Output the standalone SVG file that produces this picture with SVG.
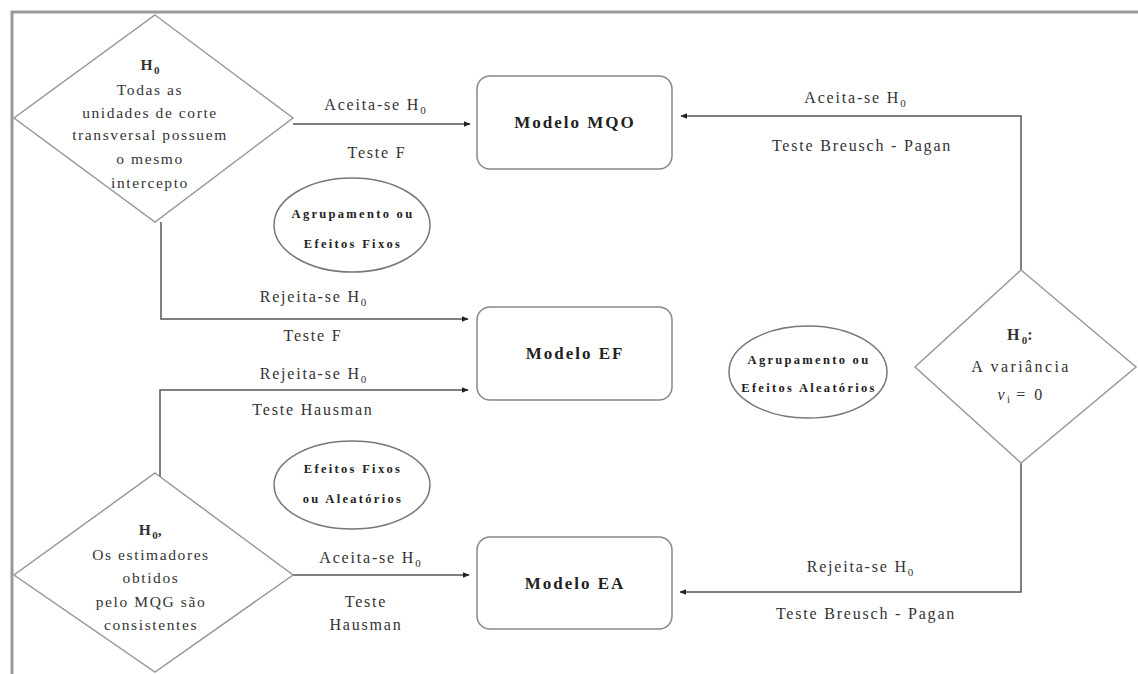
<svg xmlns="http://www.w3.org/2000/svg" width="1138" height="674" viewBox="0 0 1138 674">
<defs>
<style>
.t{font-family:"Liberation Serif","Times New Roman",serif;fill:#333;text-anchor:middle}
.lbl{font-size:16px;letter-spacing:1.8px}
.dt{font-size:15.5px;letter-spacing:1.6px}
.dt3{font-size:16px;letter-spacing:2.4px}
.box{fill:#fff;stroke:#888;stroke-width:1.5}
.dia{fill:#fff;stroke:#999;stroke-width:1.5}
.ell{fill:#fff;stroke:#777;stroke-width:1.5}
.mt{font-size:17px;font-weight:bold;fill:#222;letter-spacing:2px}
.et{font-size:12.5px;font-weight:bold;fill:#222;letter-spacing:2.3px}
.c{fill:none;stroke:#555;stroke-width:1.5}
.sub{font-size:11px;letter-spacing:0}
</style>
<marker id="ah" viewBox="0 0 10 10" refX="9" refY="5" markerWidth="7" markerHeight="7" markerUnits="userSpaceOnUse" orient="auto">
<path d="M0,1 L10,5 L0,9 z" fill="#222"/>
</marker>
</defs>
<rect width="1138" height="674" fill="#fff"/>
<g id="frame">
<path d="M12,674 L12,12 L1138,12" fill="none" stroke="#999" stroke-width="3"/>
</g>
<g id="connectors">
<path class="c" d="M293,124 L470,124" marker-end="url(#ah)"/>
<path class="c" d="M1021,270 L1021,116 L681,116" marker-end="url(#ah)"/>
<path class="c" d="M161,222 L161,319 L468,319" marker-end="url(#ah)"/>
<path class="c" d="M160,479 L160,390 L468,390" marker-end="url(#ah)"/>
<path class="c" d="M293,575 L469,575" marker-end="url(#ah)"/>
<path class="c" d="M1021,463 L1021,592 L680,592" marker-end="url(#ah)"/>
<text class="t lbl" x="375" y="110">Aceita-se H<tspan class="sub" dy="4">0</tspan></text>
<text class="t lbl" x="377" y="158">Teste F</text>
<text class="t lbl" x="855" y="103">Aceita-se H<tspan class="sub" dy="4">0</tspan></text>
<text class="t lbl" x="862" y="151">Teste Breusch - Pagan</text>
<text class="t lbl" x="313" y="302">Rejeita-se H<tspan class="sub" dy="4">0</tspan></text>
<text class="t lbl" x="313" y="341">Teste F</text>
<text class="t lbl" x="313" y="379">Rejeita-se H<tspan class="sub" dy="4">0</tspan></text>
<text class="t lbl" x="313" y="415">Teste Hausman</text>
<text class="t lbl" x="370" y="563">Aceita-se H<tspan class="sub" dy="4">0</tspan></text>
<text class="t lbl" x="366" y="607">Teste</text>
<text class="t lbl" x="366" y="630">Hausman</text>
<text class="t lbl" x="860" y="572">Rejeita-se H<tspan class="sub" dy="4">0</tspan></text>
<text class="t lbl" x="866" y="619">Teste Breusch - Pagan</text>
</g>
<g id="d1">
<polygon class="dia" points="155,15 293,118 155,222 14,118"/>
<text class="t dt" x="150" y="70" font-weight="bold">H<tspan class="sub" dy="4">0</tspan></text>
<text class="t dt" x="150" y="95">Todas as</text>
<text class="t dt" x="150" y="118">unidades de corte</text>
<text class="t dt" x="150" y="140">transversal possuem</text>
<text class="t dt" x="150" y="164">o mesmo</text>
<text class="t dt" x="150" y="188">intercepto</text>
</g>
<g id="d2">
<polygon class="dia" points="155,473 293,575 155,672 14,575"/>
<text class="t dt" x="151" y="535" font-weight="bold">H<tspan class="sub" dy="4">0</tspan><tspan dy="-4">,</tspan></text>
<text class="t dt" x="151" y="560">Os estimadores</text>
<text class="t dt" x="151" y="583">obtidos</text>
<text class="t dt" x="151" y="607">pelo MQG são</text>
<text class="t dt" x="151" y="630">consistentes</text>
</g>
<g id="d3">
<polygon class="dia" points="1021,270 1136,367 1021,463 915,367"/>
<text class="t dt3" x="1021" y="340" font-weight="bold">H<tspan class="sub" dy="4">0</tspan><tspan dy="-4">:</tspan></text>
<text class="t dt3" x="1021" y="372">A variância</text>
<text class="t dt3" x="1021" y="400" font-style="italic">ν<tspan class="sub" dy="3" font-style="normal">i</tspan><tspan dy="-3" font-style="normal"> = 0</tspan></text>
</g>
<g id="mqo">
<rect class="box" x="477" y="76" width="195" height="93" rx="13"/>
<text class="t mt" x="575" y="128">Modelo MQO</text>
</g>
<g id="ef">
<rect class="box" x="477" y="307" width="195" height="93" rx="13"/>
<text class="t mt" x="575" y="359">Modelo EF</text>
</g>
<g id="ea">
<rect class="box" x="477" y="537" width="195" height="92" rx="13"/>
<text class="t mt" x="575" y="589">Modelo EA</text>
</g>
<g id="e1">
<ellipse class="ell" cx="352" cy="225" rx="78" ry="47"/>
<text class="t et" x="353" y="218">Agrupamento ou</text>
<text class="t et" x="353" y="248">Efeitos Fixos</text>
</g>
<g id="e2">
<ellipse class="ell" cx="808" cy="372" rx="79" ry="46"/>
<text class="t et" x="809" y="364">Agrupamento ou</text>
<text class="t et" x="809" y="392">Efeitos Aleatórios</text>
</g>
<g id="e3">
<ellipse class="ell" cx="352" cy="485" rx="78" ry="44"/>
<text class="t et" x="353" y="473">Efeitos Fixos</text>
<text class="t et" x="353" y="503">ou Aleatórios</text>
</g>
</svg>
